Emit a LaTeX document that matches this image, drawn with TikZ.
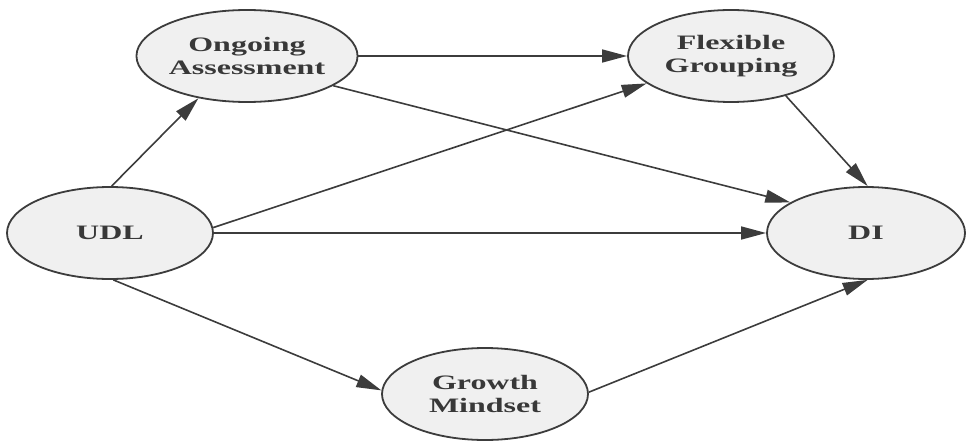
\documentclass[tikz,border=0pt]{standalone}
\usepackage{fontspec}
\usetikzlibrary{shapes.geometric,arrows.meta}
\newfontfamily\nodefont{Liberation Serif}[FakeStretch=1.56]
\definecolor{edgecol}{HTML}{3C3C3C}
\definecolor{nodefill}{HTML}{F0F0F0}
\definecolor{textcol}{HTML}{383838}
\begin{document}
\begin{tikzpicture}[x=1pt,y=-1pt,
  concept/.style={ellipse,draw=edgecol,line width=1.8pt,fill=nodefill,
    minimum width=206pt,minimum height=92pt,inner sep=0pt,align=center,
    font=\nodefont\bfseries\fontsize{20.5}{23.5}\selectfont,text=textcol},
  link/.style={draw=edgecol,line width=1.6pt,-{Triangle[length=25pt,width=13pt]}}]
\useasboundingbox (0,0) rectangle (966,441);
\node[concept] (UDL) at (110,233) {UDL};
\node[concept] (OA) at (247,56) {Ongoing\\Assessment};
\node[concept] (FG) at (731,56) {Flexible\\Grouping};
\node[concept,minimum width=198pt] (DI) at (866,233) {DI};
\node[concept] (GM) at (485,394) {Growth\\Mindset};
\draw[link] (UDL.88) -- (OA.221);
\draw[link] (OA.0) -- (FG.180);
\draw[link] (OA.341) -- (DI.158);
\draw[link] (UDL.3) -- (FG.198);
\draw[link] (UDL.0) -- (DI.180);
\draw[link] (UDL.274) -- (GM.178);
\draw[link] (GM.1) -- (DI.272);
\draw[link] (FG.324) -- (DI.88);
\end{tikzpicture}
\end{document}
